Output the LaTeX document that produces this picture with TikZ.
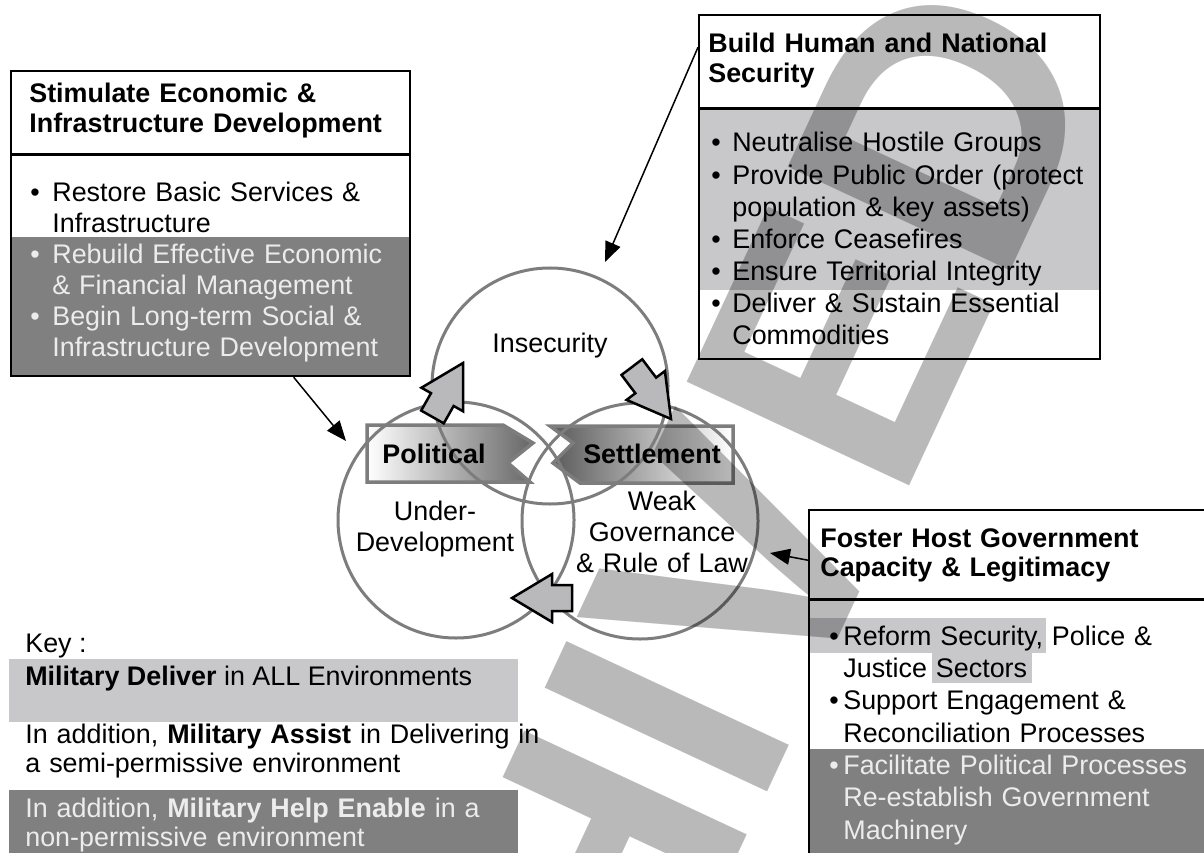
\documentclass[tikz,border=0pt]{standalone}
\usepackage{fontspec}
\setmainfont{Liberation Sans}
\usepackage{tikz}
\usetikzlibrary{positioning, calc}
\usetikzlibrary{arrows.meta}

\newcommand{\bitem}[2]{\hangindent=#1\hangafter=1\noindent\makebox[#1][l]{\textbullet}#2\par}

\begin{document}
\begin{tikzpicture}[x=0.2mm,y=-0.2mm]
\definecolor{midgrey}{RGB}{128,128,128};
\definecolor{lightgrey}{RGB}{200,200,203};
\definecolor{palegrey}{RGB}{236,236,236};
\definecolor{arrowgrey}{RGB}{185,185,188};
\definecolor{ringgrey}{RGB}{125,125,125};
\useasboundingbox (0,0) rectangle (1204,853);
\clip (0,0) rectangle (1204,853);
\tikzstyle{every node}=[inner sep=0pt, font=\fontsize{15.3}{17.6}\selectfont];
\tikzstyle{boxframe}=[draw, line width=0.45mm, anchor=north west];
\tikzstyle{boxtitle}=[anchor=base west, text width=80mm, align=left, font=\fontsize{15.3}{17}\selectfont\bfseries];
\tikzstyle{boxlist}=[anchor=base west, text width=80mm, align=left];
\tikzstyle{keytext}=[anchor=base west, text width=110mm, align=left, font=\fontsize{15.3}{17}\selectfont];
\tikzstyle{ring}=[circle, draw=ringgrey, line width=0.6mm, minimum size=47.2mm];
\tikzstyle{ringtext}=[anchor=base, text width=40mm, align=center, font=\fontsize{15.3}{17.9}\selectfont];
\tikzstyle{link}=[-{Triangle[length=4mm,width=3.2mm]}, line width=0.3mm];
\tikzstyle{cyclearrow}=[fill=arrowgrey, draw=black, line width=0.5mm, line join=miter];
\tikzstyle{bannerbox}=[draw=ringgrey, line width=0.7mm];

% shaded bands
\fill[midgrey] (10,237) rectangle (409,375);
\fill[lightgrey] (698,109) rectangle (1099,290);
\fill[midgrey] (808,749) rectangle (1215,870);
\fill[lightgrey] (810,618) rectangle (1046,653);
\fill[lightgrey] (932,653) rectangle (1032,683);
\fill[lightgrey] (9,659) rectangle (518,722);
\fill[midgrey] (9,790) rectangle (518,860);

% political settlement banners
\draw[bannerbox, left color=white, right color=gray!80!black]
  (367,425) -- (503,425) -- (533,443) -- (508,463) -- (530,482) -- (367,482) -- cycle;
\draw[bannerbox, left color=gray!70!black, right color=white]
  (550,426) -- (733,426) -- (733,483) -- (580,483) -- (553,463) -- (573,443) -- cycle;

% the three rings
\node[ring] (insec) at (550,386) {};
\node[ring] (under) at (456,520) {};
\node[ring] (weak) at (640,521) {};

\foreach \tx/\ty/\ang/\hl/\ln in {463/363/60.5/42/62, 671/419/-53/42/65, 512/598/180/40/60} {
  \draw[cyclearrow, shift={(\tx,\ty)}, rotate=\ang]
    (0,0) -- (-\hl,24) -- (-\hl,13) -- (-\ln,13) -- (-\ln,-13) -- (-\hl,-13) -- (-\hl,-24) -- cycle;
}

% boxes
\node[boxframe, minimum width=79.8mm, minimum height=61mm] (econ) at (10,70) {};
\node[boxframe, minimum width=80.2mm, minimum height=68.8mm] (sec) at (698,14) {};
\node[boxframe, minimum width=81.4mm, minimum height=72.2mm] (host) at (808,509) {};
\draw[line width=0.6mm] (10,155) -- (409,155);
\draw[line width=0.6mm] (698,109) -- (1099,109);
\draw[line width=0.6mm] (808,599) -- (1215,599);

\coordinate (insecin) at (605,262);
\coordinate (underin) at (346,441);
\coordinate (weakin) at (770,553);
\draw[link] ($(econ.south west)!0.707!(econ.south east)$) -- (underin);
\draw[link] ($(sec.north west)!0.096!(sec.south west)$) -- (insecin);
\draw[link] ($(host.north west)!0.141!(host.south west)$) -- (weakin);

\node[boxtitle] (econtitle) at (29,103) {Stimulate Economic \&\\Infrastructure Development};
\node[boxlist, font=\fontsize{15.3}{17.6}\selectfont] (econlist) at (30,202) {%
  \bitem{4.4mm}{Restore Basic Services \&\newline Infrastructure}%
  \color{palegrey}%
  \bitem{4.4mm}{Rebuild Effective Economic\newline \& Financial Management}%
  \bitem{4.4mm}{Begin Long-term Social \&\newline Infrastructure Development}};

\node[boxtitle] (sectitle) at (708,53) {Build Human and National\\Security};
\node[boxlist, font=\fontsize{15.3}{18.26}\selectfont] (seclist) at (711,152) {%
  \bitem{4.2mm}{Neutralise Hostile Groups}%
  \bitem{4.2mm}{Provide Public Order (protect\newline population \& key assets)}%
  \bitem{4.2mm}{Enforce Ceasefires}%
  \bitem{4.2mm}{Ensure Territorial Integrity}%
  \bitem{4.2mm}{Deliver \& Sustain Essential\newline Commodities}};

\node[boxtitle] (hosttitle) at (820,547) {Foster Host Government\\Capacity \& Legitimacy};
\node[boxlist, font=\fontsize{15.3}{18.43}\selectfont] (hostlist) at (829,645) {%
  \bitem{2.8mm}{Reform Security, Police \&\newline Justice Sectors}%
  \bitem{2.8mm}{Support Engagement \&\newline Reconciliation Processes}%
  \color{palegrey}%
  \bitem{2.8mm}{Facilitate Political Processes\newline Re-establish Government\newline Machinery}};

\node[ringtext] (insectext) at (550,353) {Insecurity};
\node[ringtext] (undertext) at (435,520) {Under-\\Development};
\node[ringtext] (weaktext) at (662,510) {Weak\\Governance\\\& Rule of Law};
\node[anchor=base, font=\fontsize{15.3}{17.6}\selectfont\bfseries] (poltext) at (434,463) {Political};
\node[anchor=base, font=\fontsize{15.3}{17.6}\selectfont\bfseries] (settext) at (652,463) {Settlement};

% key
\node[anchor=base west] (keyhead) at (25,652) {Key :};
\node[anchor=base west] (keydeliver) at (25,685) {\textbf{Military Deliver} in ALL Environments};
\node[keytext] (keyassist) at (25,743)
  {In addition, \textbf{Military Assist} in Delivering in\\a semi-permissive environment};
\node[keytext, text=palegrey] (keyenable) at (25,817)
  {In addition, \textbf{Military Help Enable} in a\\non-permissive environment};

% watermark
\node[rotate=65, opacity=0.275, text opacity=0.275, font=\fontsize{203}{203}\selectfont\bfseries] (stamp) at (604,851) {ARCHIVED};
\end{tikzpicture}
\end{document}
